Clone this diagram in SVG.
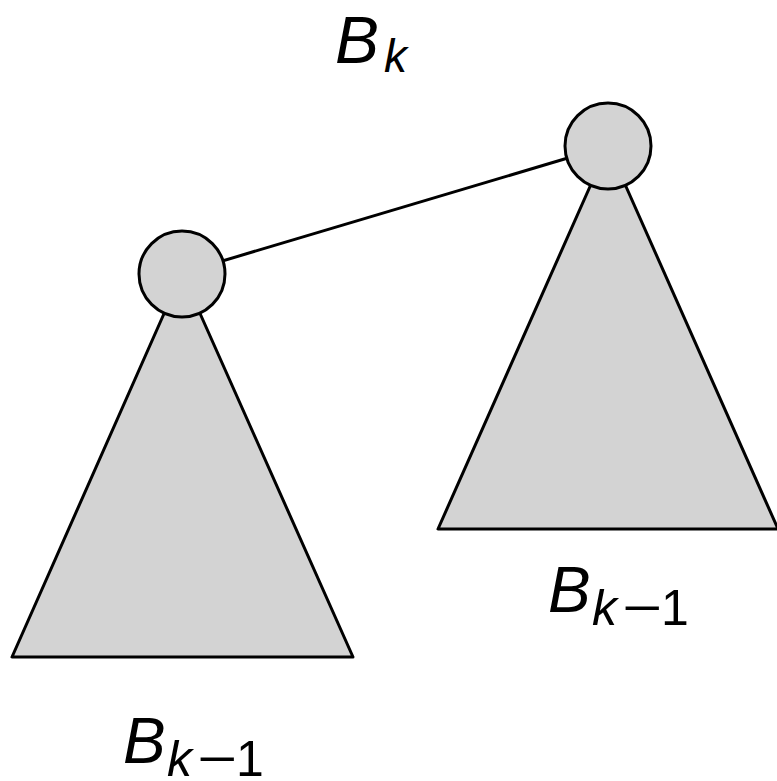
<svg xmlns="http://www.w3.org/2000/svg" width="777" height="781" viewBox="0 0 777 781">
<style>
.sh{fill:#d3d3d3;stroke:#000;stroke-width:3;stroke-linejoin:round}
.ln{stroke:#000;stroke-width:3;fill:none}
.t{font-family:"Liberation Sans",Arial,sans-serif;fill:#000}
.i{font-style:italic}
</style>
<rect width="777" height="781" fill="#fff"/>
<g id="connectors">
<line class="ln" x1="182" y1="273" x2="608" y2="146"/>
</g>
<g id="left-tree">
<polygon class="sh" points="182,273 12,657 353,657"/>
<circle class="sh" cx="182" cy="274" r="43"/>
</g>
<g id="right-tree">
<polygon class="sh" points="608,146 438,529 778,529"/>
<circle class="sh" cx="608" cy="146" r="43"/>
</g>
<g id="label-top">
<text class="t i" x="335" y="63" font-size="66">B</text>
<text class="t i" x="384" y="72" font-size="46">k</text>
</g>
<g id="label-right">
<text class="t i" x="548" y="612" font-size="64">B</text>
<text class="t i" x="592" y="625" font-size="50">k</text>
<text class="t" x="622" y="625" font-size="50" textLength="40" lengthAdjust="spacingAndGlyphs">−</text>
<text class="t" x="661" y="625" font-size="50">1</text>
</g>
<g id="label-left">
<text class="t i" x="123" y="763" font-size="64">B</text>
<text class="t i" x="167" y="776" font-size="50">k</text>
<text class="t" x="197" y="776" font-size="50" textLength="40" lengthAdjust="spacingAndGlyphs">−</text>
<text class="t" x="236" y="776" font-size="50">1</text>
</g>
</svg>
